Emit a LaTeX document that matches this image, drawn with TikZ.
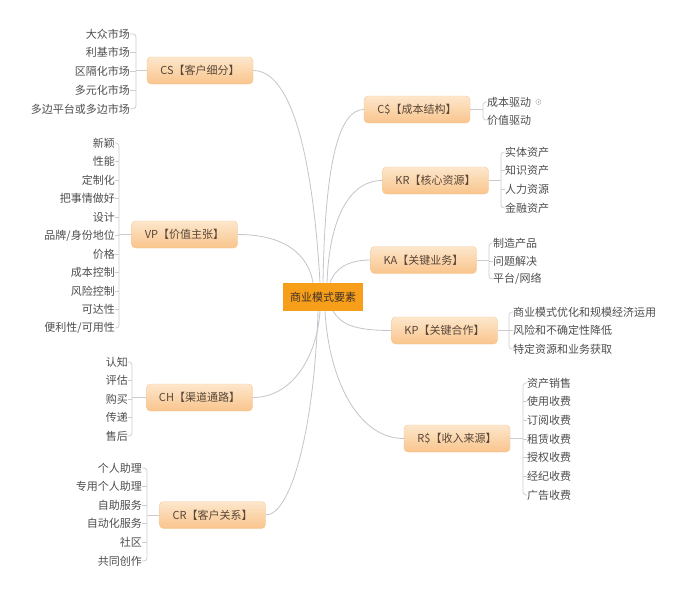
\documentclass[tikz,border=0pt]{standalone}
\usepackage{fontspec}
\newfontfamily\cjk{Noto Sans CJK SC}
\usepackage{tikz}
\usetikzlibrary{positioning}
\definecolor{chengse}{RGB}{247,158,26}
\definecolor{kuangding}{RGB}{253,231,204}
\definecolor{kuangdi}{RGB}{249,196,140}
\definecolor{kuangbian}{RGB}{246,200,150}
\definecolor{zise}{RGB}{88,70,56}
\definecolor{yese}{RGB}{78,78,78}
\definecolor{xianse}{RGB}{196,196,204}

\begin{document}
\begin{tikzpicture}[x=1pt, y=1pt,
		font=\cjk\fontsize{11}{13}\selectfont,
		zhongxin/.style={fill=chengse, text=zise!70!black, minimum width=80pt, minimum height=28pt, inner sep=0pt},
		zhuti/.style={rounded corners=4pt, draw=kuangbian, top color=kuangding, bottom color=kuangdi, text=zise, minimum width=106pt, minimum height=27pt, inner sep=0pt},
		ye/.style={text=yese, inner sep=0pt},
		zhi/.style={draw=xianse, line width=0.8pt},
		kuo/.style={draw=gray!40, line width=0.7pt, rounded corners=3pt}]
	\useasboundingbox[fill=white] (0,0) rectangle (690,-595);

	% 中心与九个要素
	\node[zhongxin] (zx) at (323,-297) {商业模式要素};
	\node[zhuti] (cs) at (200,-70.5) {CS【客户细分】};
	\node[zhuti] (vp) at (184.5,-234.5) {VP【价值主张】};
	\node[zhuti] (ch) at (199.5,-397.5) {CH【渠道通路】};
	\node[zhuti] (cr) at (212.5,-515) {CR【客户关系】};
	\node[zhuti] (cb) at (417,-109.5) {C\$【成本结构】};
	\node[zhuti] (kr) at (435.5,-180.5) {KR【核心资源】};
	\node[zhuti] (ka) at (423.5,-260) {KA【关键业务】};
	\node[zhuti] (kp) at (444.5,-330.5) {KP【关键合作】};
	\node[zhuti] (rs) at (457,-438.5) {R\$【收入来源】};

	% 中心到要素的连线
	\draw[zhi] (cs.east) .. controls +(35,0) and +(-8,140) .. ([xshift=-3pt]zx.north);
	\draw[zhi] (vp.east) .. controls +(45,0) and +(-5,30) .. ([xshift=-10pt]zx.north);
	\draw[zhi] (cb.west) .. controls +(-25,0) and +(2,120) .. (zx.north);
	\draw[zhi] (kr.west) .. controls +(-35,0) and +(2,60) .. ([xshift=4pt]zx.north);
	\draw[zhi] (ka.west) .. controls +(-25,0) and +(4,12) .. ([xshift=7pt]zx.north);
	\draw[zhi] (kp.west) .. controls +(-40,0) and +(8,-12) .. ([xshift=10pt]zx.south);
	\draw[zhi] (rs.west) .. controls +(-45,0) and +(4,-70) .. ([xshift=2pt]zx.south);
	\draw[zhi] (ch.east) .. controls +(40,0) and +(-3,-45) .. ([xshift=-3pt]zx.south);
	\draw[zhi] (cr.east) .. controls +(25,0) and +(-4,-120) .. ([xshift=-5pt]zx.south);

	% CS: 客户细分
	\foreach \t [count=\i] in {大众市场,利基市场,区隔化市场,多元化市场,多边平台或多边市场} {
			\node[ye, anchor=east] (cs\i) at (130,{-34-18.7*(\i-1)}) {\t};
		}
	\draw[kuo] (cs1.east) -- ++(6,0) |- (cs5.east);
	\foreach \i in {2,3,4} \draw[kuo] (cs\i.east) -- ++(6,0);
	\draw[kuo] (cs.west) -- ++(-11,0);

	% VP: 价值主张
	\foreach \t [count=\i] in {新颖,性能,定制化,把事情做好,设计,品牌/身份地位,价格,成本控制,风险控制,可达性,便利性/可用性} {
			\node[ye, anchor=east] (vp\i) at (115,{-143-18.5*(\i-1)}) {\t};
		}
	\draw[kuo] (vp1.east) -- ++(4,0) |- (vp11.east);
	\foreach \i in {2,...,10} \draw[kuo] (vp\i.east) -- ++(4,0);
	\draw[kuo] (vp.west) -- ++(-12.5,0);

	% CH: 渠道通路
	\foreach \t [count=\i] in {认知,评估,购买,传递,售后} {
			\node[ye, anchor=east] (ch\i) at (128,{-362-18.5*(\i-1)}) {\t};
		}
	\draw[kuo] (ch1.east) -- ++(4,0) |- (ch5.east);
	\foreach \i in {2,3,4} \draw[kuo] (ch\i.east) -- ++(4,0);
	\draw[kuo] (ch.west) -- ++(-14.5,0);

	% CR: 客户关系
	\foreach \t [count=\i] in {个人助理,专用个人助理,自助服务,自动化服务,社区,共同创作} {
			\node[ye, anchor=east] (cr\i) at (142,{-468-18.6*(\i-1)}) {\t};
		}
	\draw[kuo] (cr1.east) -- ++(5,0) |- (cr6.east);
	\foreach \i in {2,...,5} \draw[kuo] (cr\i.east) -- ++(5,0);
	\draw[kuo] (cr.west) -- ++(-12.5,0);

	% C$: 成本结构
	\foreach \t [count=\i] in {成本驱动,价值驱动} {
			\node[ye, anchor=west] (cb\i) at (487,{-102-18*(\i-1)}) {\t};
		}
	\draw[kuo] (cb1.west) -- ++(-4,0) |- (cb2.west);
	\draw[kuo] (cb.east) -- ++(13,0);
	\coordinate (tu) at ([xshift=7pt]cb1.east);
	\draw[gray!55, line width=0.5pt] (tu) circle (2.6pt);
	\fill[gray!70] (tu) circle (0.9pt);

	% KR: 核心资源
	\foreach \t [count=\i] in {实体资产,知识资产,人力资源,金融资产} {
			\node[ye, anchor=west] (kr\i) at (505,{-152-18.67*(\i-1)}) {\t};
		}
	\draw[kuo] (kr1.west) -- ++(-4,0) |- (kr4.west);
	\foreach \i in {2,3} \draw[kuo] (kr\i.west) -- ++(-4,0);
	\draw[kuo] (kr.east) -- ++(12.5,0);

	% KA: 关键业务
	\foreach \t [count=\i] in {制造产品,问题解决,平台/网络} {
			\node[ye, anchor=west] (ka\i) at (493,{-243-18*(\i-1)}) {\t};
		}
	\draw[kuo] (ka1.west) -- ++(-4,0) |- (ka3.west);
	\draw[kuo] (ka2.west) -- ++(-4,0);
	\draw[kuo] (ka.east) -- ++(12.5,0);

	% KP: 关键合作
	\foreach \t [count=\i] in {商业模式优化和规模经济运用,风险和不确定性降低,特定资源和业务获取} {
			\node[ye, anchor=west] (kp\i) at (513,{-312-18.5*(\i-1)}) {\t};
		}
	\draw[kuo] (kp1.west) -- ++(-4,0) |- (kp3.west);
	\draw[kuo] (kp2.west) -- ++(-4,0);
	\draw[kuo] (kp.east) -- ++(11.5,0);

	% R$: 收入来源
	\foreach \t [count=\i] in {资产销售,使用收费,订阅收费,租赁收费,授权收费,经纪收费,广告收费} {
			\node[ye, anchor=west] (rs\i) at (527,{-383-18.67*(\i-1)}) {\t};
		}
	\draw[kuo] (rs1.west) -- ++(-4,0) |- (rs7.west);
	\foreach \i in {2,...,6} \draw[kuo] (rs\i.west) -- ++(-4,0);
	\draw[kuo] (rs.east) -- ++(13,0);
\end{tikzpicture}
\end{document}
